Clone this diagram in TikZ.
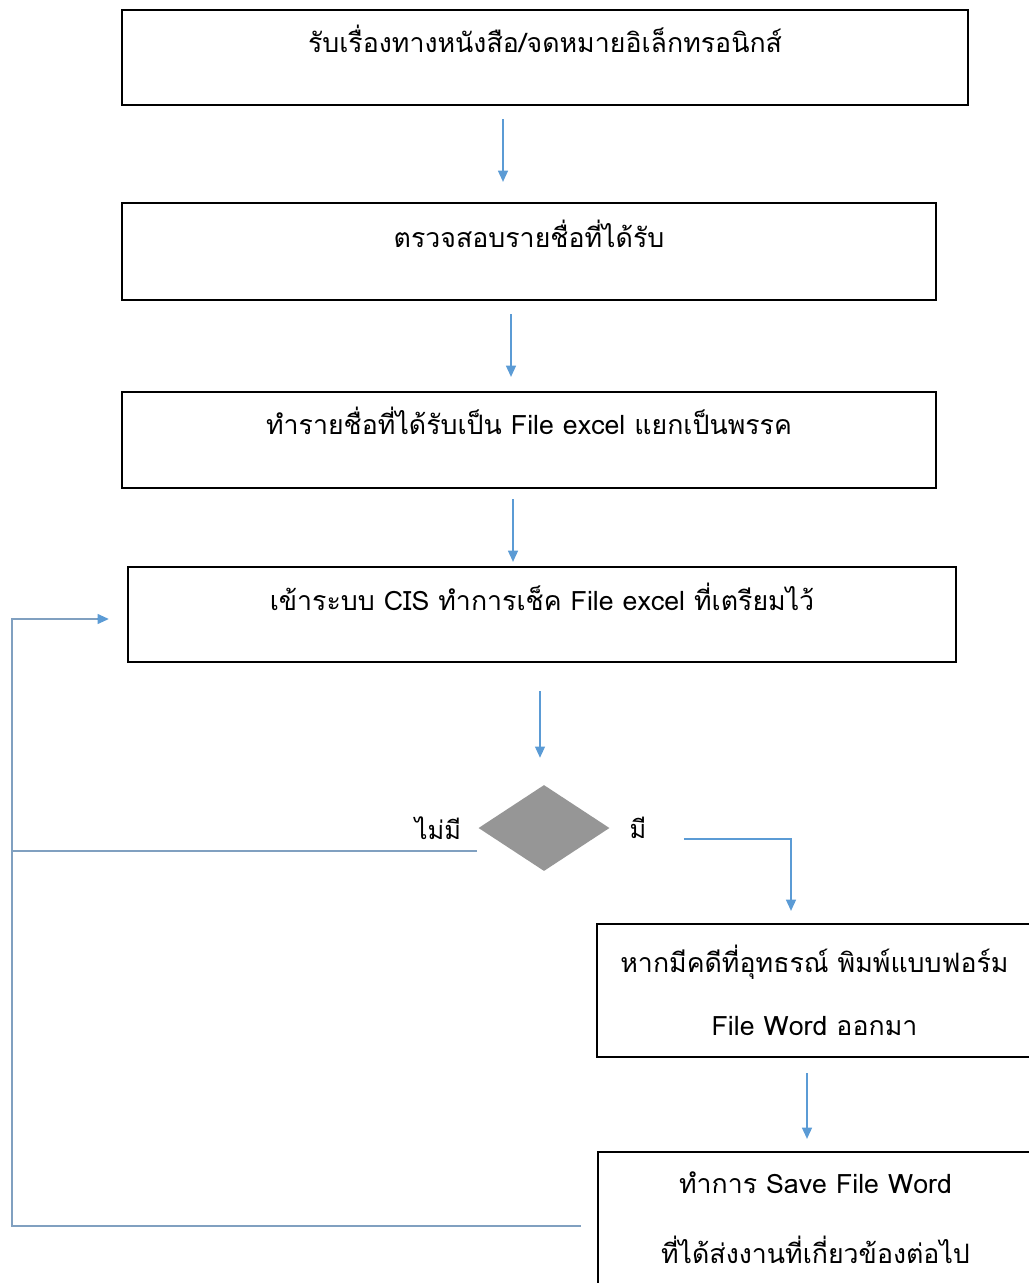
\documentclass[tikz,border=0pt]{standalone}
\usepackage{fontspec}
\setmainfont[Script=Thai]{Loma}
\usetikzlibrary{shapes.geometric, arrows.meta, positioning, calc}

\definecolor{arrowblue}{RGB}{91,155,213}
\definecolor{loopgray}{RGB}{128,160,192}
\definecolor{diagray}{RGB}{150,150,150}

\tikzset{
  stepbox/.style={draw, line width=1.6pt, rectangle, inner sep=0pt, align=center, font=\fontsize{19}{24}\selectfont},
  flow/.style={draw=arrowblue, line width=0.9pt, -{Triangle[length=0.28cm, width=0.25cm]}},
  loopline/.style={draw=loopgray, line width=1.1pt},
  answer/.style={font=\fontsize{18}{22}\selectfont}
}

\begin{document}
\begin{tikzpicture}[x=0.025cm, y=-0.025cm]
    \useasboundingbox (0,0) rectangle (1029,1283);
    \clip (0,0) rectangle (1029,1283);

    % main steps
    \node[stepbox, minimum width=21.15cm, text height=1.05cm, text depth=1.325cm] (b1) at (545,57.5) {รับเรื่องทางหนังสือ/จดหมายอิเล็กทรอนิกส์};
    \node[stepbox, minimum width=20.35cm, text height=1.1cm, text depth=1.325cm] (b2) at (529,251.5) {ตรวจสอบรายชื่อที่ได้รับ};
    \node[stepbox, minimum width=20.35cm, text height=1.05cm, text depth=1.35cm] (b3) at (529,440) {ทำรายชื่อที่ได้รับเป็น File excel แยกเป็นพรรค};
    \node[stepbox, minimum width=20.7cm, text height=1.075cm, text depth=1.3cm] (b4) at (542,614.5) {เข้าระบบ CIS ทำการเช็ค File excel ที่เตรียมไว้};

    % decision
    \node[diamond, fill=diagray, inner sep=0pt, minimum width=3.275cm, minimum height=2.15cm] (dia) at (544,828) {};
    \node[answer, anchor=east] (no) at (466,828) {ไม่มี};
    \node[answer] (yes) at (638,828) {มี};

    % result boxes
    \node[stepbox, minimum width=10.875cm, minimum height=3.325cm] (b5) at (814.5,990.5) {หากมีคดีที่อุทธรณ์ พิมพ์แบบฟอร์ม\\[21pt] File Word ออกมา};
    \node[stepbox, minimum width=10.875cm, minimum height=3.3cm] (b6) at (815.5,1218) {ทำการ Save File Word\\[26pt] ที่ได้ส่งงานที่เกี่ยวข้องต่อไป};

    \coordinate (loopcorner) at (12,851);
    \coordinate (loopbottom) at (12,1226);

    \draw[flow] ($(b1.south)+(-42,13)$) -- ($(b2.north)+(-26,-20)$);
    \draw[flow] ($(b2.south)+(-18,13)$) -- ($(b3.north)+(-18,-14)$);
    \draw[flow] ($(b3.south)+(-16,10)$) -- ($(b4.north)+(-29,-4)$);
    \draw[flow] ($(b4.south)+(-2,28)$) -- ($(dia.north)+(-4,-27)$);
    \draw[flow] ($(dia.east)+(74,11)$) -| ($(b5.north)+(-23.5,-12)$);
    \draw[flow] ($(b5.south)+(-7.5,15)$) -- ($(b6.north)+(-8.5,-12)$);

    % back to CIS
    \draw[loopline] ($(dia.west)+(-1,23)$) -- (loopcorner);
    \draw[loopline] ($(b6.west)+(-16,8)$) -- (loopbottom) -- (loopcorner);
    \draw[loopline] (loopcorner) |- ($(b4.west)+(-28,4.5)$);
    \draw[flow] ($(b4.west)+(-30,4.5)$) -- ($(b4.west)+(-18,4.5)$);
\end{tikzpicture}
\end{document}
